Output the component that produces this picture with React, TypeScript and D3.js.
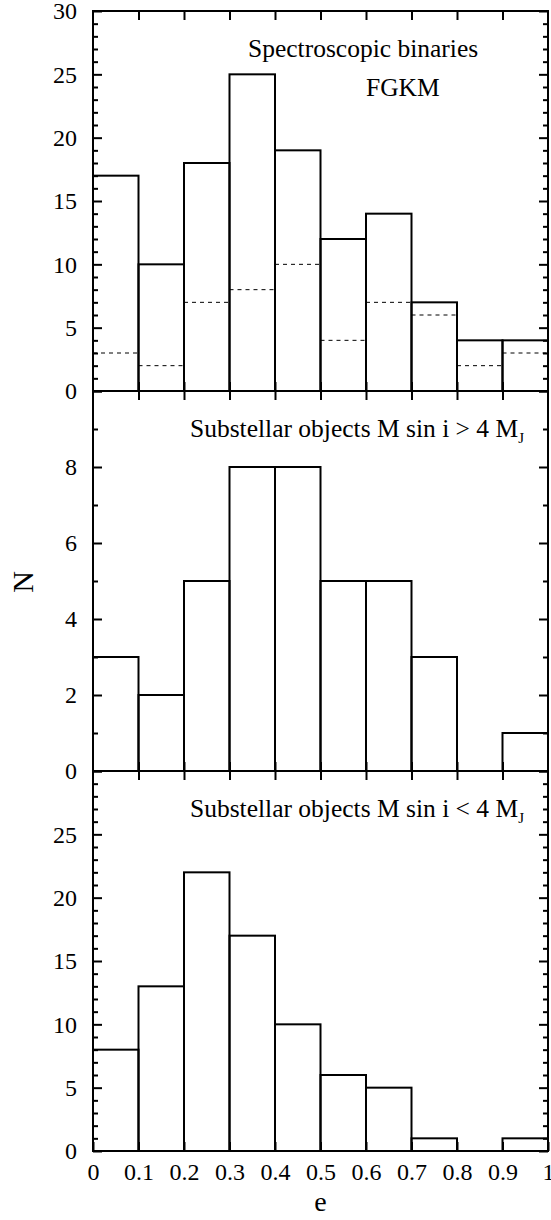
import React, { useEffect, useRef } from "react";
import * as d3 from "d3";

// eccentricity bins (left edges), width 0.1
const binStarts = [0, 0.1, 0.2, 0.3, 0.4, 0.5, 0.6, 0.7, 0.8, 0.9];
const xTickValues = [0, 0.1, 0.2, 0.3, 0.4, 0.5, 0.6, 0.7, 0.8, 0.9, 1];
const xTickLabels = ["0", "0.1", "0.2", "0.3", "0.4", "0.5", "0.6", "0.7", "0.8", "0.9", "1"];

// top panel: spectroscopic binaries FGKM (solid) and subsample (dashed)
const binariesCounts = [17, 10, 18, 25, 19, 12, 14, 7, 4, 4];
const binariesDashed = [3, 2, 7, 8, 10, 4, 7, 6, 2, 3];
// middle panel: substellar objects M sin i > 4 MJ
const heavyCounts = [3, 2, 5, 8, 8, 5, 5, 3, 0, 1];
// bottom panel: substellar objects M sin i < 4 MJ
const lightCounts = [8, 13, 22, 17, 10, 6, 5, 1, 0, 1];

const topYLabels = [0, 5, 10, 15, 20, 25, 30];
const midYLabels = [0, 2, 4, 6, 8];
const botYLabels = [0, 5, 10, 15, 20, 25];

const FONT = "Liberation Serif, DejaVu Serif, serif";

const App: React.FC = () => {
	const svgRef = useRef<SVGSVGElement>(null);

	useEffect(() => {
		if (!svgRef.current) return;
		const svg = d3.select(svgRef.current);
		svg.selectAll("*").remove();

		const left = 93;
		const right = 548;
		const binW = 0.1;

		const x = d3.scaleLinear().domain([0, 1]).range([left, right]);

		const panels = [
			{ top: 11, bottom: 391, max: 30, major: 5, labels: topYLabels, counts: binariesCounts, dashed: binariesDashed, xLabels: false },
			{ top: 391, bottom: 771, max: 10, major: 2, labels: midYLabels, counts: heavyCounts, dashed: null, xLabels: false },
			{ top: 771, bottom: 1151, max: 30, major: 5, labels: botYLabels, counts: lightCounts, dashed: null, xLabels: true },
		];

		const styleAxis = (g: d3.Selection<SVGGElement, unknown, null, undefined>) => {
			g.attr("font-family", null).attr("font-size", null);
			g.select(".domain").remove();
			g.selectAll(".tick line").attr("stroke", "#000").attr("stroke-width", 2);
			g.selectAll(".tick text")
				.attr("fill", "#000")
				.style("font-family", FONT)
				.style("font-size", "24px");
		};

		panels.forEach((p) => {
			const y = d3.scaleLinear().domain([0, p.max]).range([p.bottom, p.top]);
			const majors = d3.range(0, p.max + 0.001, p.major);
			const minors = d3.range(0, p.max + 0.001, 1).filter((v) => v % p.major !== 0);

			// histogram bars
			svg.append("g")
				.selectAll("rect")
				.data(binStarts)
				.join("rect")
				.attr("x", (d) => x(d))
				.attr("width", (d) => x(d + binW) - x(d))
				.attr("y", (d, i) => y(p.counts[i]))
				.attr("height", (d, i) => y(0) - y(p.counts[i]))
				.attr("fill", "none")
				.attr("stroke", "#000")
				.attr("stroke-width", 2);

			if (p.dashed) {
				const dashed = p.dashed;
				svg.append("g")
					.selectAll("line")
					.data(binStarts)
					.join("line")
					.attr("x1", (d) => x(d))
					.attr("x2", (d) => x(d + binW))
					.attr("y1", (d, i) => y(dashed[i]))
					.attr("y2", (d, i) => y(dashed[i]))
					.attr("stroke", "#000")
					.attr("stroke-width", 1)
					.attr("stroke-dasharray", "4,4");
			}

			// left axis, labels
			svg.append("g")
				.attr("transform", `translate(${left},0)`)
				.call(
					d3.axisLeft(y)
						.tickValues(majors)
						.tickSize(-9)
						.tickPadding(16)
						.tickFormat((d) => (p.labels.includes(+d) ? String(d) : ""))
				)
				.call(styleAxis);
			svg.append("g")
				.attr("transform", `translate(${left},0)`)
				.call(d3.axisLeft(y).tickValues(minors).tickSize(-5).tickFormat(() => ""))
				.call(styleAxis);

			// right axis
			svg.append("g")
				.attr("transform", `translate(${right},0)`)
				.call(d3.axisRight(y).tickValues(majors).tickSize(-9).tickFormat(() => ""))
				.call(styleAxis);
			svg.append("g")
				.attr("transform", `translate(${right},0)`)
				.call(d3.axisRight(y).tickValues(minors).tickSize(-5).tickFormat(() => ""))
				.call(styleAxis);

			// top and bottom x ticks, pointing inward
			svg.append("g")
				.attr("transform", `translate(0,${p.top})`)
				.call(d3.axisTop(x).tickValues(xTickValues.slice(1, -1)).tickSize(-9).tickFormat(() => ""))
				.call(styleAxis);
			svg.append("g")
				.attr("transform", `translate(0,${p.bottom})`)
				.call(
					d3.axisBottom(x)
						.tickValues(p.xLabels ? xTickValues : xTickValues.slice(1, -1))
						.tickSize(-9)
						.tickPadding(12)
						.tickFormat((d) => (p.xLabels ? xTickLabels[xTickValues.indexOf(+d)] : ""))
				)
				.call(styleAxis);

			// frame
			svg.append("rect")
				.attr("x", left)
				.attr("y", p.top)
				.attr("width", right - left)
				.attr("height", p.bottom - p.top)
				.attr("fill", "none")
				.attr("stroke", "#000")
				.attr("stroke-width", 2);
		});

		const txt = svg.append("g").style("font-family", FONT).attr("fill", "#000");

		txt.append("text").attr("x", 248).attr("y", 57).style("font-size", "25.5px").text("Spectroscopic binaries");
		txt.append("text").attr("x", 366).attr("y", 96).style("font-size", "25.5px").text("FGKM");

		const massLabel = (yPos: number, sign: string) => {
			const t = txt.append("text")
				.attr("x", 524)
				.attr("y", yPos)
				.attr("text-anchor", "end")
				.style("font-size", "25.5px");
			t.append("tspan").text(`Substellar objects M sin i ${sign} 4 M`);
			t.append("tspan").style("font-size", "15px").attr("dy", 6).text("J");
		};
		massLabel(437, ">");
		massLabel(817, "<");

		txt.append("text")
			.attr("transform", "translate(33,582) rotate(-90)")
			.attr("text-anchor", "middle")
			.style("font-size", "30px")
			.text("N");
		txt.append("text")
			.attr("x", x(0.5))
			.attr("y", 1211)
			.attr("text-anchor", "middle")
			.style("font-size", "28px")
			.text("e");
	}, []);

	return (
		<svg
			ref={svgRef}
			width={551}
			height={1220}
			style={{ position: "absolute", left: 0, top: 0, background: "#fff" }}
		/>
	);
};

export default App;
